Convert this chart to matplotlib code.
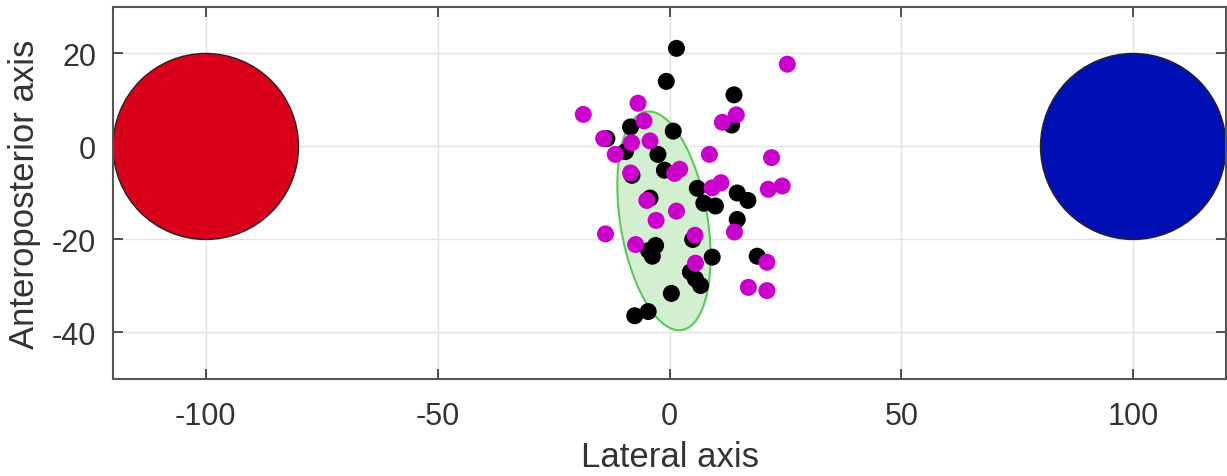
import matplotlib.pyplot as plt
from matplotlib.patches import Circle, Ellipse

plt.rcParams['font.family'] = ['Liberation Sans', 'DejaVu Sans']
plt.rcParams['axes.unicode_minus'] = False

# targets (left / right)
target_x = [-100, 100]
target_y = [0, 0]
target_r = 20
target_colors = ['#d9001b', '#0010b4']

# black points
black_x = [1.5, -0.7, 13.9, -8.4, 0.8, 13.4, -13.5, -9.5, -2.5, -1.1,
           -8.1, 6.0, 14.6, 16.9, 7.4, 9.9, -4.2, 14.6, 5.0, -3.0,
           -4.5, -3.7, 9.2, 18.9, 4.5, 5.6, 6.7, 0.4, -7.5, -4.6]
black_y = [21.1, 14.0, 11.1, 4.2, 3.3, 4.6, 1.7, -1.1, -1.7, -5.1,
           -6.2, -9.0, -10.0, -11.6, -12.2, -12.8, -11.1, -15.7, -20.0, -21.3,
           -22.4, -23.6, -23.8, -23.6, -27.0, -28.5, -29.9, -31.6, -36.4, -35.5]

# magenta points
magenta_x = [25.4, -6.8, -18.6, -5.5, 11.4, 14.4, -14.2, -8.2, -4.2, -11.7,
             8.6, 22.0, -8.4, 1.1, 2.2, 9.2, 11.1, 21.3, 24.3, -4.9,
             1.5, -2.9, 14.0, -13.8, 5.5, -7.3, 21.0, 5.6, 17.0, 21.0]
magenta_y = [17.7, 9.3, 6.9, 5.5, 5.2, 6.8, 1.7, 0.8, 1.2, -1.7,
             -1.7, -2.4, -5.7, -5.8, -4.9, -8.9, -7.8, -9.2, -8.5, -11.6,
             -13.9, -15.9, -18.4, -18.8, -19.1, -21.1, -24.9, -25.1, -30.3, -31.0]

# confidence ellipse
ell_center = (-1.2, -16.0)
ell_width = 18.8
ell_height = 47.6
ell_angle = 9.4

fig = plt.figure(figsize=(12.27, 4.77), dpi=100)
ax = fig.add_axes([0.0921, 0.2034, 0.9071, 0.7799])

for cx, cy, col in zip(target_x, target_y, target_colors):
    ax.add_patch(Circle((cx, cy), target_r, facecolor=col, edgecolor='#222222',
                        linewidth=1.0, zorder=2))

ax.add_patch(Ellipse(ell_center, ell_width, ell_height, angle=ell_angle,
                     facecolor='#d2f0d0', edgecolor='#5cc85c', linewidth=1.5, zorder=2))

ax.scatter(black_x, black_y, s=150, color='black', edgecolors='none', zorder=3)
ax.scatter(magenta_x, magenta_y, s=150, color='#cc00cc', edgecolors='none', zorder=4)

ax.set_xlim(-120, 120)
ax.set_ylim(-50, 30)
ax.set_xticks([-100, -50, 0, 50, 100])
ax.set_yticks([-40, -20, 0, 20])
ax.grid(True, color='#e3e3e3', linewidth=1.0, zorder=0)
ax.set_axisbelow(True)

ax.tick_params(direction='in', top=True, right=True, length=7, width=1.2,
               labelsize=22, colors='#333333')
ax.tick_params(axis='x', pad=16)
ax.tick_params(axis='y', pad=12)
for sp in ax.spines.values():
    sp.set_color('#555555')
    sp.set_linewidth(1.5)

ax.set_xlabel('Lateral axis', fontsize=25, color='#333333', labelpad=6)
ax.set_ylabel('Anteroposterior axis', fontsize=25, color='#333333', labelpad=8)

fig.savefig('out.png', dpi=100)
